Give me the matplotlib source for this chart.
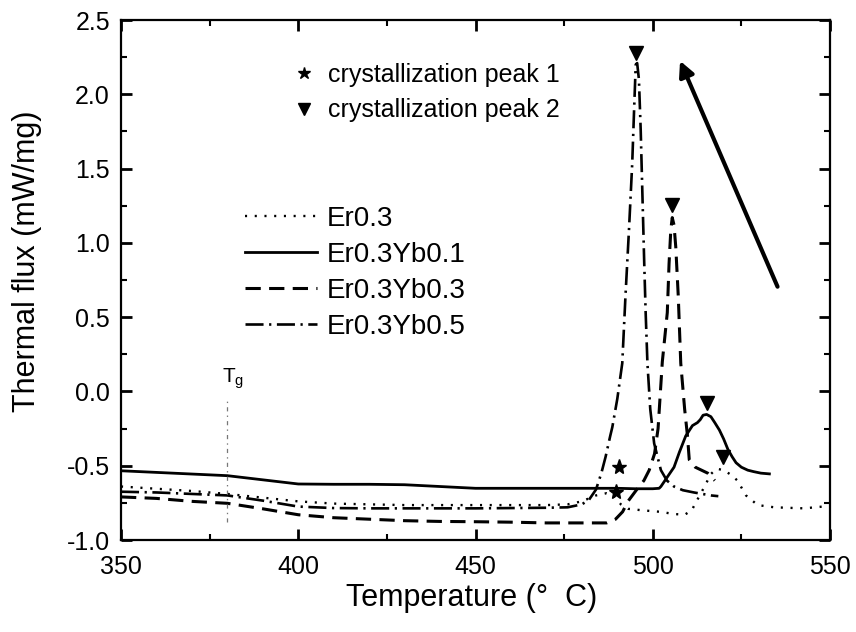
import matplotlib
matplotlib.use("Agg")
import matplotlib.pyplot as plt
from matplotlib.lines import Line2D
from matplotlib.ticker import MultipleLocator

plt.rcParams['font.family'] = ['Liberation Sans', 'DejaVu Sans']
plt.rcParams['lines.scale_dashes'] = False

# ---------------- data ----------------
labels = ["Er0.3", "Er0.3Yb0.1", "Er0.3Yb0.3", "Er0.3Yb0.5"]

t_er03 = [350, 360, 370, 380, 390, 400, 410, 420, 430, 440, 450, 460, 470, 476, 480, 484, 487,
          489, 491, 493, 497, 502, 506, 509, 511, 512.1, 514.5, 516.4, 518, 520, 522, 523.9,
          526.3, 529.6, 534.3, 542.7, 547.5, 550]
f_er03 = [-0.64, -0.655, -0.67, -0.69, -0.715, -0.74, -0.755, -0.76, -0.765, -0.765, -0.765, -0.765,
          -0.765, -0.76, -0.74, -0.70, -0.685, -0.70, -0.76, -0.79, -0.80, -0.81, -0.825, -0.83,
          -0.80, -0.75, -0.645, -0.556, -0.52, -0.53, -0.56, -0.60, -0.70, -0.765, -0.78, -0.787,
          -0.776, -0.77]

t_yb01 = [350, 360, 370, 380, 390, 400, 410, 420, 430, 440, 450, 460, 470, 480, 490, 495, 500,
          501.8, 502.3, 504, 506, 507.5, 509.3, 511.2, 512.6, 513.4, 514.2, 515.2, 516.4, 517.5,
          518.8, 520, 521.2, 522.4, 523.5, 525, 526.8, 528.5, 530.5, 532.9]
f_yb01 = [-0.534, -0.545, -0.556, -0.567, -0.595, -0.623, -0.625, -0.625, -0.628, -0.64, -0.652,
          -0.652, -0.652, -0.652, -0.652, -0.655, -0.655, -0.652, -0.64, -0.58, -0.51, -0.41,
          -0.30, -0.23, -0.21, -0.19, -0.16, -0.155, -0.17, -0.21, -0.26, -0.32, -0.39, -0.44,
          -0.48, -0.51, -0.53, -0.54, -0.55, -0.555]

t_yb03 = [350, 360, 370, 380, 390, 400, 410, 420, 430, 440, 450, 460, 470, 480, 487, 489.5,
          491.5, 493, 495.5, 497.5, 499, 500.5, 501.5, 502.7, 504.1, 504.6, 505.1, 505.5, 506.0,
          506.5, 507.2, 507.9, 509.0, 509.8, 510.3, 512, 515.5, 517.5]
f_yb03 = [-0.71, -0.72, -0.74, -0.753, -0.79, -0.83, -0.85, -0.86, -0.87, -0.875, -0.877, -0.88,
          -0.885, -0.885, -0.885, -0.86, -0.81, -0.74, -0.66, -0.60, -0.53, -0.42, -0.25, 0.2,
          0.53, 0.86, 1.09, 1.17, 1.12, 0.97, 0.64, 0.19, -0.12, -0.30, -0.46, -0.51, -0.55, -0.60]

t_yb05 = [350, 360, 370, 380, 390, 400, 410, 420, 430, 440, 450, 460, 470, 476, 480, 482, 484,
          485.5, 486.7, 488, 488.6, 490, 491.4, 492.3, 493.3, 494.2, 494.7, 495.2, 495.6, 496.1,
          496.6, 497.1, 497.6, 498.0, 498.5, 499.3, 500.4, 502.3, 504, 506.0, 508.5, 511.6,
          514, 516.4, 518.5]
f_yb05 = [-0.675, -0.68, -0.69, -0.70, -0.735, -0.775, -0.785, -0.787, -0.787, -0.787, -0.787,
          -0.785, -0.783, -0.78, -0.76, -0.73, -0.66, -0.55, -0.44, -0.30, -0.24, -0.05, 0.19,
          0.64, 1.09, 1.53, 1.87, 2.20, 2.21, 2.10, 1.76, 1.31, 0.86, 0.53, 0.19, -0.12, -0.35,
          -0.53, -0.60, -0.64, -0.665, -0.68, -0.69, -0.70, -0.705]

peak1_t = [490.5, 489.5]
peak1_f = [-0.507, -0.675]
peak2_t = [495.2, 505.5, 515.4, 519.7]
peak2_f = [2.275, 1.254, -0.08, -0.44]

tg_t = 380
tg_range = [-0.877, -0.044]
arrow_from = (535.2, 0.705)
arrow_to = (507.7, 2.225)

xticks = [350, 400, 450, 500, 550]
yticks = [-1.0, -0.5, 0.0, 0.5, 1.0, 1.5, 2.0, 2.5]

# ---------------- figure ----------------
fig = plt.figure(figsize=(8.56, 6.32), dpi=100)
ax = fig.add_axes([121/856, 1-540/632, (830-121)/856, (540-20)/632])

styles = [
    dict(color='black', lw=1.7, linestyle=(0, (1.5, 5.5))),
    dict(color='black', lw=2.0, linestyle='-'),
    dict(color='black', lw=2.2, linestyle=(0, (11, 6))),
    dict(color='black', lw=1.9, linestyle=(0, (13, 4, 1.6, 4))),
]
series = [(t_er03, f_er03), (t_yb01, f_yb01), (t_yb03, f_yb03), (t_yb05, f_yb05)]
handles = []
for (t, f), st, lab in zip(series, styles, labels):
    ln, = ax.plot(t, f, label=lab, **st)
    handles.append(ln)

ax.plot(peak1_t, peak1_f, linestyle='none', marker='*', color='black', markersize=11)
ax.plot(peak2_t, peak2_f, linestyle='none', marker='v', color='black', markersize=10)

# Tg line and label
ax.plot([tg_t, tg_t], tg_range, color='#777777', lw=0.9, linestyle=(0, (3, 3, 1, 3)))
ax.text(378.4, 0.06, r"T$_\mathregular{g}$", fontsize=15, ha='left', va='baseline')

# arrow
ax.annotate("", xy=arrow_to, xytext=arrow_from,
            arrowprops=dict(arrowstyle='-|>,head_length=0.9,head_width=0.45',
                            color='black', lw=3.0, shrinkA=0, shrinkB=0))

ax.set_xlim(350, 550)
ax.set_ylim(-1.0, 2.5)
ax.set_xticks(xticks)
ax.set_yticks(yticks)
ax.xaxis.set_minor_locator(MultipleLocator(25))
ax.yaxis.set_minor_locator(MultipleLocator(0.25))
ax.tick_params(which='both', direction='in', top=True, right=True)
ax.tick_params(which='major', length=8, width=2.0, labelsize=18)
ax.tick_params(axis='x', which='major', pad=11)
ax.tick_params(axis='y', which='major', pad=8)
ax.tick_params(which='minor', length=4.5, width=1.5)
ax.set_xticklabels([str(v) for v in xticks])
ax.set_yticklabels(["%.1f" % v for v in yticks])
for s in ax.spines.values():
    s.set_linewidth(1.6)

fig.text(472/856, 1-598/632, "Temperature (\u00b0  C)", fontsize=22, ha='center', va='center')
fig.text(27/856, 1-261/632, "Thermal flux (mW/mg)", fontsize=22, rotation=90,
         ha='center', va='center')

# legends
mk_handles = [Line2D([], [], linestyle='none', marker='*', color='black', markersize=9),
              Line2D([], [], linestyle='none', marker='v', color='black', markersize=9)]
leg1 = ax.legend(mk_handles, ["crystallization peak 1", "crystallization peak 2"],
                 loc='upper left', bbox_to_anchor=((295-121)/709, (540-63)/520),
                 frameon=False, fontsize=18, handlelength=0.75, handletextpad=0.55,
                 labelspacing=0.45, borderpad=0, borderaxespad=0)
ax.add_artist(leg1)
ax.legend(handles, labels, loc='upper left', bbox_to_anchor=((245-121)/709, (540-206)/520),
          frameon=False, fontsize=20, handlelength=2.6, handletextpad=0.35,
          labelspacing=0.36, borderpad=0, borderaxespad=0)

fig.savefig("out.png", dpi=100)
